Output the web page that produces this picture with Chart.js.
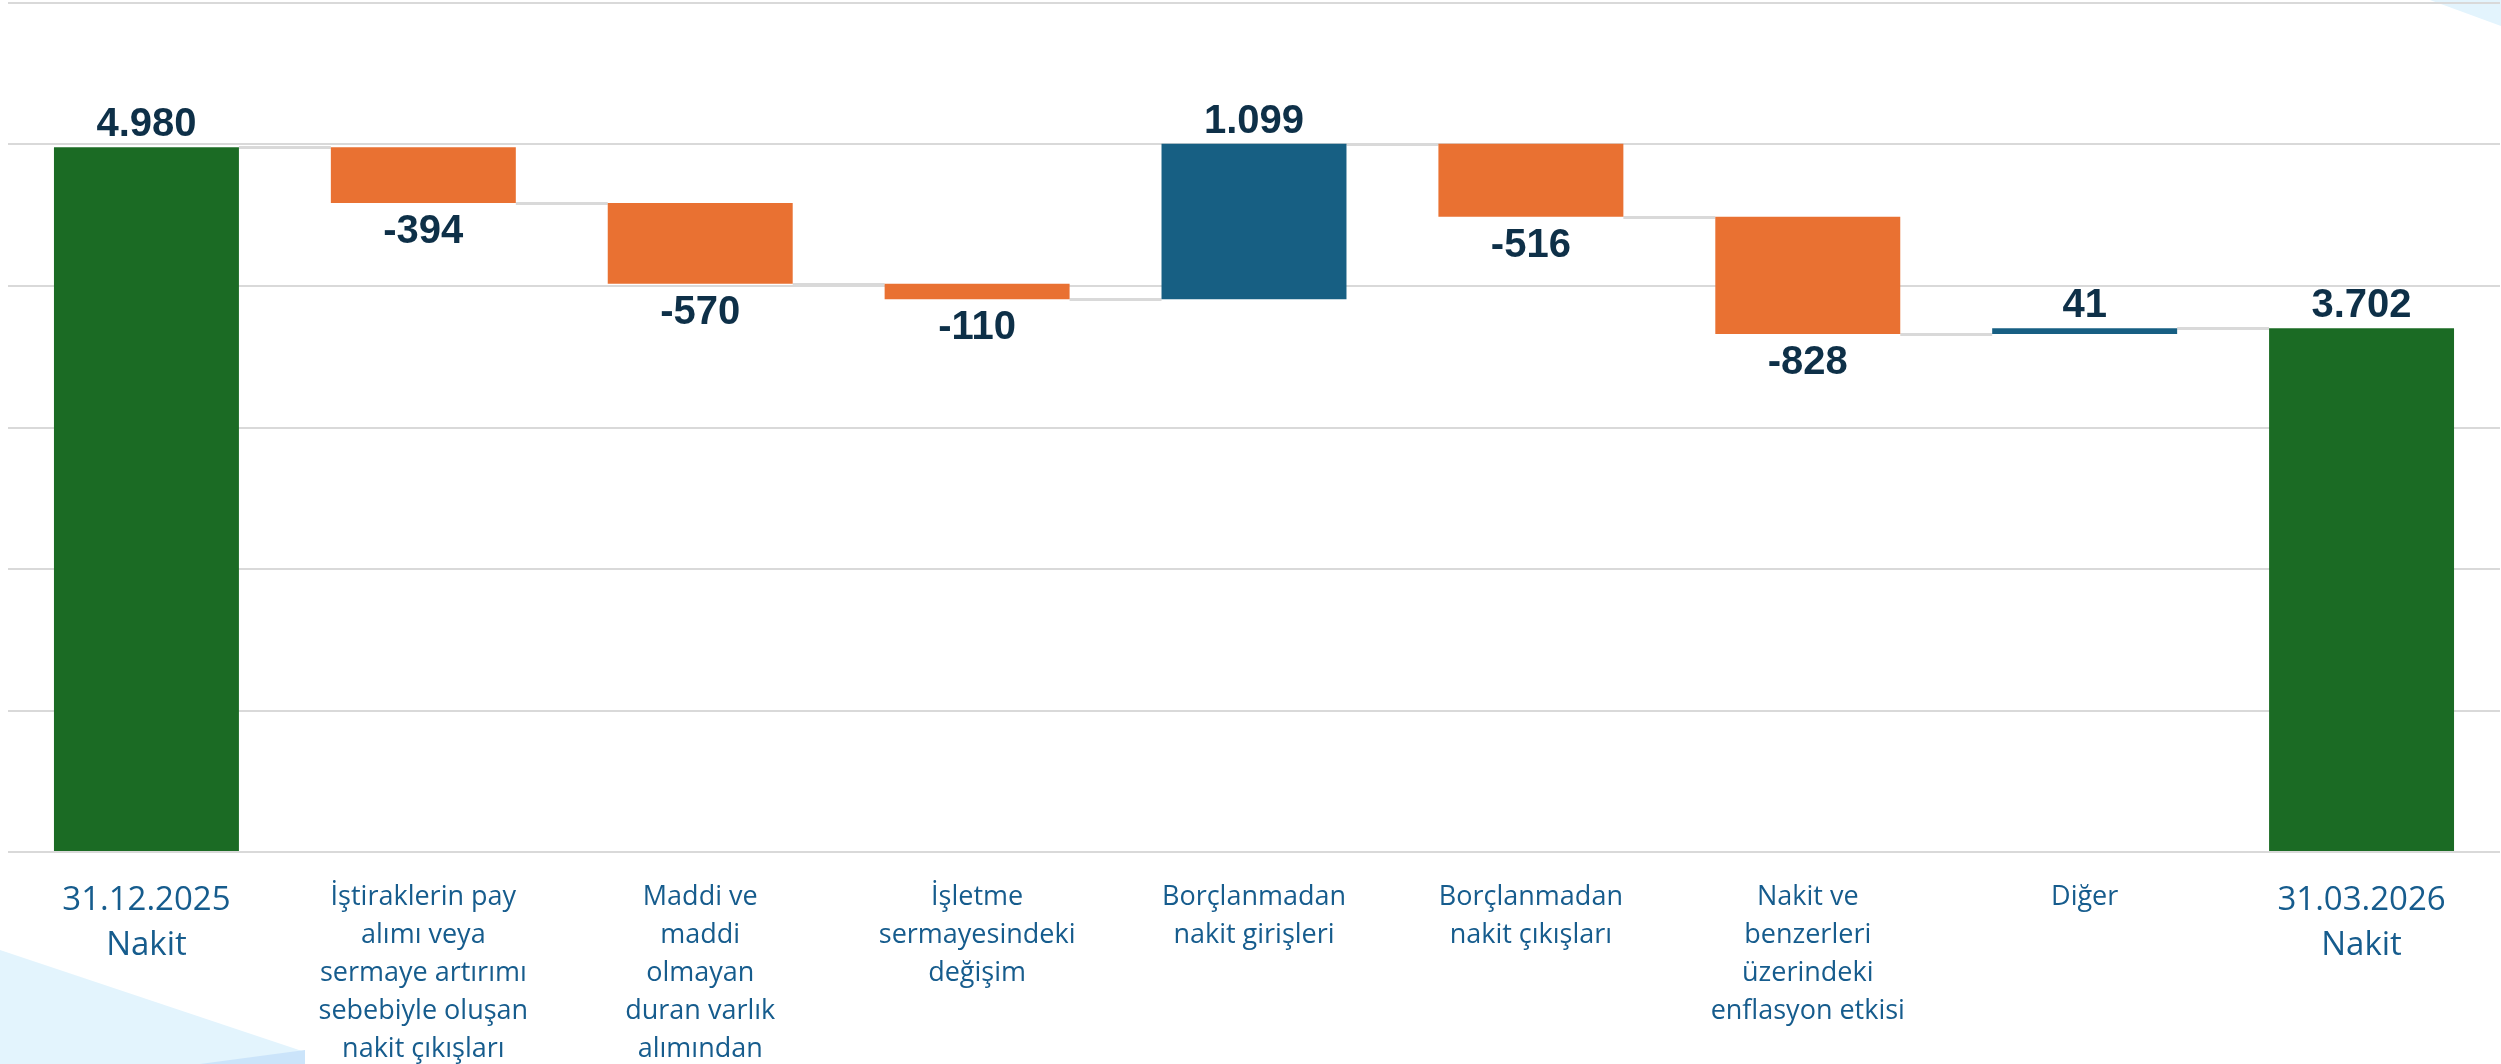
<!DOCTYPE html>
<html lang="tr">
<head>
<meta charset="utf-8">
<title>Nakit Köprüsü</title>
<script src="https://cdn.jsdelivr.net/npm/chart.js@4/dist/chart.umd.min.js"></script>
<style>
    html, body { margin: 0; padding: 0; background: #ffffff; }
    #wrap { width: 2501px; height: 1064px; position: relative; }
</style>
</head>
<body>
<div id="wrap"><canvas id="waterfallChart" width="2501" height="1064"></canvas></div>
<script>
// Kategoriler (çok satırlı etiketler)
const kategoriler = [
    ["31.12.2025", "Nakit"],
    ["İştiraklerin pay", "alımı veya", "sermaye artırımı", "sebebiyle oluşan", "nakit çıkışları"],
    ["Maddi ve", "maddi", "olmayan", "duran varlık", "alımından"],
    ["İşletme", "sermayesindeki", "değişim"],
    ["Borçlanmadan", "nakit girişleri"],
    ["Borçlanmadan", "nakit çıkışları"],
    ["Nakit ve", "benzerleri", "üzerindeki", "enflasyon etkisi"],
    ["Diğer"],
    ["31.03.2026", "Nakit"]
];

// Değerler: toplam çubuklar ve değişimler
const degerler = [4980, -394, -570, -110, 1099, -516, -828, 41, 3702];
const tipler = ["toplam", "fark", "fark", "fark", "fark", "fark", "fark", "fark", "toplam"];
const degerEtiketleri = ["4.980", "-394", "-570", "-110", "1.099", "-516", "-828", "41", "3.702"];

// Y ekseni
const yMin = 0;
const yMax = 6000;
const yAdim = 1000;

const RENK_TOPLAM = "#1b6b24";
const RENK_ARTIS = "#175f83";
const RENK_AZALIS = "#e97132";

// Şelale aralıklarını oluştur
let kumulatif = 0;
const araliklar = [];
const seviyeler = [];
degerler.forEach(function (v, i) {
    if (tipler[i] === "toplam") {
        araliklar.push([0, v]);
        kumulatif = v;
    } else {
        araliklar.push([kumulatif, kumulatif + v]);
        kumulatif += v;
    }
    seviyeler.push(kumulatif);
});

const renkler = degerler.map(function (v, i) {
    if (tipler[i] === "toplam") return RENK_TOPLAM;
    return v >= 0 ? RENK_ARTIS : RENK_AZALIS;
});

// Arka plan süsleri (slayt şekilleri)
const arkaPlanPlugin = {
    id: "arkaPlan",
    beforeDraw(chart) {
        const c = chart.ctx;
        c.save();
        c.fillStyle = "#ffffff";
        c.fillRect(0, 0, chart.width, chart.height);
        c.fillStyle = "#e3f4fd";
        c.beginPath();
        c.moveTo(0, 950);
        c.lineTo(305, 1052);
        c.lineTo(305, 1064);
        c.lineTo(0, 1064);
        c.closePath();
        c.fill();
        c.fillStyle = "#cbe4fa";
        c.beginPath();
        c.moveTo(200, 1064);
        c.lineTo(305, 1050);
        c.lineTo(305, 1064);
        c.closePath();
        c.fill();
        c.fillStyle = "#e3f4fd";
        c.beginPath();
        c.moveTo(2430, 0);
        c.lineTo(2501, 0);
        c.lineTo(2501, 26);
        c.closePath();
        c.fill();
        c.restore();
    }
};

// Çubuklar arası bağlantı çizgileri
const baglantiPlugin = {
    id: "baglanti",
    beforeDatasetsDraw(chart) {
        const meta = chart.getDatasetMeta(0);
        const y = chart.scales.y;
        const c = chart.ctx;
        c.save();
        c.strokeStyle = "#d9d9d9";
        c.lineWidth = 3;
        for (let i = 0; i < meta.data.length - 1; i++) {
            const a = meta.data[i];
            const b = meta.data[i + 1];
            const py = Math.round(y.getPixelForValue(seviyeler[i])) + 0.5;
            c.beginPath();
            c.moveTo(a.x + a.width / 2, py);
            c.lineTo(b.x - b.width / 2, py);
            c.stroke();
        }
        c.restore();
    }
};

// Değer etiketleri
const etiketPlugin = {
    id: "degerEtiket",
    afterDatasetsDraw(chart) {
        const meta = chart.getDatasetMeta(0);
        const y = chart.scales.y;
        const c = chart.ctx;
        c.save();
        c.font = "bold 40px 'Liberation Sans', Arial, sans-serif";
        c.fillStyle = "#0e3048";
        c.textAlign = "center";
        c.textBaseline = "alphabetic";
        meta.data.forEach(function (bar, i) {
            const ust = y.getPixelForValue(Math.max(araliklar[i][0], araliklar[i][1]));
            const alt = y.getPixelForValue(Math.min(araliklar[i][0], araliklar[i][1]));
            if (degerler[i] >= 0) {
                c.fillText(degerEtiketleri[i], bar.x, ust - 11);
            } else {
                c.fillText(degerEtiketleri[i], bar.x, alt + 40);
            }
        });
        c.restore();
    }
};

const ctx = document.getElementById("waterfallChart").getContext("2d");

new Chart(ctx, {
    type: "bar",
    data: {
        labels: kategoriler,
        datasets: [{
            data: araliklar,
            backgroundColor: renkler,
            borderWidth: 0,
            barPercentage: 0.668,
            categoryPercentage: 1.0
        }]
    },
    options: {
        responsive: false,
        animation: false,
        layout: {
            padding: { top: 3, left: 8, right: 1, bottom: 0 }
        },
        plugins: {
            legend: { display: false },
            tooltip: { enabled: false },
            title: { display: false }
        },
        scales: {
            x: {
                grid: { display: false, drawTicks: false },
                border: { display: false },
                ticks: {
                    autoSkip: false,
                    maxRotation: 0,
                    minRotation: 0,
                    padding: 26,
                    color: "#165c8d",
                    font: function (context) {
                        const i = context.index;
                        if (i === 0 || i === kategoriler.length - 1) {
                            return { family: "'Open Sans', sans-serif", size: 33, lineHeight: "45px" };
                        }
                        return { family: "'Open Sans', sans-serif", size: 27, lineHeight: "38px" };
                    }
                },
                afterFit: function (scale) {
                    scale.height = 212;
                }
            },
            y: {
                min: yMin,
                max: yMax,
                ticks: { display: false, stepSize: yAdim },
                grid: { color: "#d9d9d9", lineWidth: 2, drawTicks: false },
                border: { display: false },
                afterFit: function (scale) {
                    scale.width = 0;
                }
            }
        }
    },
    plugins: [arkaPlanPlugin, baglantiPlugin, etiketPlugin]
});
</script>
</body>
</html>
